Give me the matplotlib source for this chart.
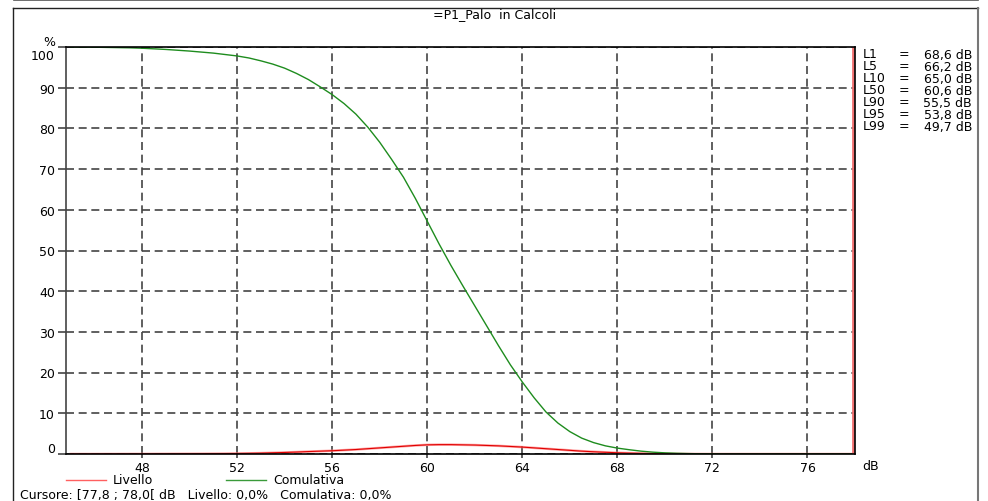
import matplotlib
matplotlib.use("Agg")
import matplotlib.pyplot as plt
from matplotlib.lines import Line2D

plt.rcParams['font.family'] = ['DejaVu Sans']

# ---- data ----
title = "=P1_Palo  in Calcoli"
levels_db = [45 + 0.5 * i for i in range(67)]  # 45.0 ... 78.0 dB, 0.5 dB steps
cumulativa = [100.0, 99.98, 99.95, 99.9, 99.85, 99.8, 99.7, 99.55, 99.4, 99.2,
              99.0, 98.75, 98.5, 98.15, 97.8, 97.3, 96.6, 95.8, 94.8, 93.5,
              92.0, 90.2, 88.3, 86.1, 83.5, 80.3, 76.6, 72.4, 68.0, 62.8,
              57.2, 51.6, 46.3, 41.3, 36.4, 31.5, 26.6, 21.9, 17.7, 13.8,
              10.3, 7.6, 5.5, 3.9, 2.8, 2.0, 1.45, 1.05, 0.7, 0.45,
              0.28, 0.17, 0.1, 0.05, 0.02, 0.0, 0.0, 0.0, 0.0, 0.0,
              0.0, 0.0, 0.0, 0.0, 0.0, 0.0, 0.0]
livello = [0.0, 0.0, 0.0, 0.01, 0.01, 0.02, 0.02, 0.03, 0.04, 0.05,
           0.06, 0.07, 0.09, 0.11, 0.13, 0.17, 0.22, 0.3, 0.38, 0.48,
           0.6, 0.7, 0.8, 0.95, 1.1, 1.3, 1.5, 1.7, 1.9, 2.1,
           2.25, 2.3, 2.3, 2.25, 2.2, 2.1, 2.0, 1.85, 1.7, 1.5,
           1.3, 1.1, 0.9, 0.7, 0.55, 0.42, 0.3, 0.22, 0.15, 0.1,
           0.06, 0.04, 0.02, 0.01, 0.0, 0.0, 0.0, 0.0, 0.0, 0.0,
           0.0, 0.0, 0.0, 0.0, 0.0, 0.0, 0.0]
cursor_db = 77.9
x_ticks = [48, 52, 56, 60, 64, 68, 72, 76]
y_ticks = [0, 10, 20, 30, 40, 50, 60, 70, 80, 90, 100]
stat_names = ["L1", "L5", "L10", "L50", "L90", "L95", "L99"]
stat_values = ["68,6 dB", "66,2 dB", "65,0 dB", "60,6 dB", "55,5 dB", "53,8 dB", "49,7 dB"]
legend_labels = ["Livello", "Comulativa"]
cursor_text = "Cursore: [77,8 ; 78,0[ dB   Livello: 0,0%   Comulativa: 0,0%"

FS = 9
W, H = 988, 502
fig = plt.figure(figsize=(W / 100, H / 100), dpi=100)
fig.patch.set_facecolor('white')

def fx(px):
    return px / W

def fy(py):
    return 1 - py / H

# outer frame
fig.add_artist(Line2D([fx(14), fx(978)], [fy(0.7), fy(0.7)], color='#555555', lw=1.2))
fig.add_artist(Line2D([fx(12.5), fx(978)], [fy(9), fy(9)], color='#222222', lw=1.0))
fig.add_artist(Line2D([fx(12.5), fx(12.5)], [fy(9), fy(502)], color='#222222', lw=1.0))
fig.add_artist(Line2D([fx(978), fx(978)], [fy(9), fy(502)], color='#777777', lw=1.5))

fig.text(fx(495), fy(15), title, ha='center', va='center', fontsize=FS)

ax = fig.add_axes([fx(66), 1 - 455 / H, (855 - 66) / W, (455 - 48) / H])
ax.set_xlim(44.8, 78.0)
ax.set_ylim(0, 100)
ax.set_xticks(x_ticks)
ax.set_yticks(y_ticks)
ax.set_xticklabels([str(t) for t in x_ticks], fontsize=FS)
ax.set_yticklabels([])
ax.tick_params(axis='y', length=6, width=1.2, color='#444444')
ax.tick_params(axis='x', length=3, width=1.2, color='#444444', pad=2)
ax.grid(True, color='#444444', lw=1.2, linestyle=(0, (4.8, 2.8)))
for s in ax.spines.values():
    s.set_color('black')
    s.set_linewidth(1.2)
ax.spines['left'].set_color('#444444')

# y labels (end labels kept inside the axis range, as in the reference)
for v in y_ticks:
    dy = -1.0
    if v == 100:
        dy = -5.8
    elif v == 0:
        dy = 3.6
    ax.annotate(str(v), xy=(0, v), xycoords=('axes fraction', 'data'),
                xytext=(-8, dy), textcoords='offset points',
                ha='right', va='center', fontsize=FS, annotation_clip=False)

ax.plot(levels_db, livello, color='#ff8080', lw=1.8, alpha=0.7)
ax.plot(levels_db, livello, color='#e00000', lw=0.8)
ax.plot(levels_db, cumulativa, color='#1e8c1e', lw=1.0)
ax.axvline(cursor_db, color='#f07070', lw=2.0)

fig.text(fx(55), fy(42), "%", ha='right', va='center', fontsize=FS)
fig.text(fx(862), fy(467), "dB", ha='left', va='center', fontsize=FS)

# statistics
for i, (n, v) in enumerate(zip(stat_names, stat_values)):
    y = fy(55 + i * 12)
    fig.text(fx(863), y, n, ha='left', va='center', fontsize=FS)
    fig.text(fx(899), y, "=", ha='left', va='center', fontsize=FS)
    fig.text(fx(972), y, v, ha='right', va='center', fontsize=FS)

# legend
fig.add_artist(Line2D([fx(66), fx(106)], [fy(481), fy(481)], color='#ff6060', lw=1.0))
fig.text(fx(113), fy(481), legend_labels[0], ha='left', va='center', fontsize=FS)
fig.add_artist(Line2D([fx(226), fx(266)], [fy(481), fy(481)], color='#3a9a3a', lw=1.0))
fig.text(fx(273), fy(481), legend_labels[1], ha='left', va='center', fontsize=FS)

fig.text(fx(20), fy(496), cursor_text, ha='left', va='center', fontsize=FS)

fig.savefig("out.png", dpi=100)
